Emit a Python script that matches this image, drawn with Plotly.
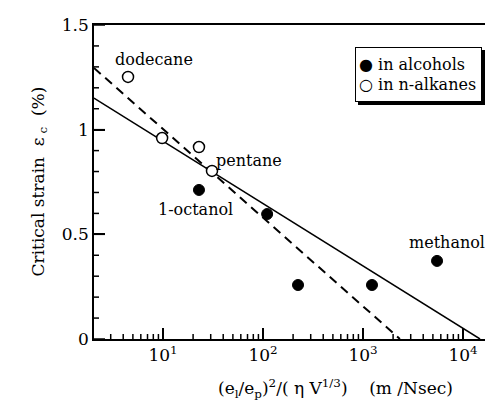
import numpy as np
import plotly.graph_objects as go

# ---- data ----
alc_x = [22.9, 110, 224, 1230, 5500]
alc_y = [0.712, 0.597, 0.258, 0.258, 0.373]
alk_x = [4.47, 9.8, 22.9, 30.9]
alk_y = [1.252, 0.96, 0.917, 0.803]

fit_solid_x = [2.04, 14800]
fit_solid_y = [1.151, 0.0]
fit_dash_x = [2.04, 2340]
fit_dash_y = [1.295, 0.0]

labels = ["dodecane", "pentane", "1-octanol", "methanol"]
label_x = [8.1, 72, 20.9, 6900]
label_y = [1.333, 0.852, 0.617, 0.463]

legend_names = ["in alcohols", "in n-alkanes"]

x_tickvals = [10, 100, 1000, 10000]
x_ticktext = ["10<sup>1</sup>", "10<sup>2</sup>", "10<sup>3</sup>", "10<sup>4</sup>"]
x_minor = [3, 4, 5, 6, 7, 8, 9, 20, 30, 40, 50, 60, 70, 80, 90,
           200, 300, 400, 500, 600, 700, 800, 900,
           2000, 3000, 4000, 5000, 6000, 7000, 8000, 9000]
y_tickvals = [0, 0.5, 1, 1.5]
y_ticktext = ["0", "0.5", "1", "1.5"]
y_minor = [0.1, 0.2, 0.3, 0.4, 0.6, 0.7, 0.8, 0.9, 1.1, 1.2, 1.3, 1.4]

FONT = "DejaVu Serif"
FS = 16

W, H = 485, 415
L, T, B, R = 94, 25, 76, 0
pw, ph = W - L - R, H - T - B
X_RANGE = [0.31, 4.22]
Y_RANGE = [0, 1.5]
MAJOR_LEN, MINOR_LEN = 11, 5


def px_x(px):
    return (px - L) / pw


def px_y(py):
    return (H - B - py) / ph


fig = go.Figure()
fig.add_trace(go.Scatter(x=fit_solid_x, y=fit_solid_y, mode="lines",
                         line=dict(color="black", width=1.5), showlegend=False))
fig.add_trace(go.Scatter(x=fit_dash_x, y=fit_dash_y, mode="lines",
                         line=dict(color="black", width=2, dash="9px,6px"), showlegend=False))
fig.add_trace(go.Scatter(x=alc_x, y=alc_y, mode="markers", name=legend_names[0],
                         showlegend=False,
                         marker=dict(symbol="circle", size=11, color="black",
                                     line=dict(color="black", width=1))))
fig.add_trace(go.Scatter(x=alk_x, y=alk_y, mode="markers", name=legend_names[1],
                         showlegend=False,
                         marker=dict(symbol="circle", size=11, color="white",
                                     line=dict(color="black", width=1.5))))

for t, lx, ly in zip(labels, label_x, label_y):
    fig.add_annotation(x=np.log10(lx), y=ly, xref="x", yref="y", text=t,
                       showarrow=False, font=dict(family=FONT, size=FS, color="black"))

fig.add_annotation(x=px_x(335), y=px_y(403), xref="paper", yref="paper",
                   text="(e<sub>l</sub>/e<sub>p</sub>)<sup>2</sup>/( η V<sup>1/3</sup>)\u00a0\u00a0\u00a0\u00a0(m /Nsec)",
                   showarrow=False, font=dict(family=FONT, size=17, color="black"))
fig.add_annotation(x=px_x(25), y=px_y(182), xref="paper", yref="paper", textangle=-90,
                   text="Critical strain\u00a0\u00a0ε<sub>\u00a0c</sub>\u00a0\u00a0(%)",
                   showarrow=False, font=dict(family=FONT, size=17, color="black"))

# inward tick marks placed through the axes' own scales
tick_line = dict(color="black", width=1.5)
for v in x_tickvals:
    fig.add_shape(type="line", xref="x", yref="y domain", x0=v, x1=v,
                  y0=0, y1=MAJOR_LEN / ph, line=tick_line, layer="above")
for v in x_minor:
    fig.add_shape(type="line", xref="x", yref="y domain", x0=v, x1=v,
                  y0=0, y1=MINOR_LEN / ph, line=tick_line, layer="above")
for v in y_tickvals:
    fig.add_shape(type="line", xref="x domain", yref="y", x0=0, x1=MAJOR_LEN / pw,
                  y0=v, y1=v, line=tick_line, layer="above")
for v in y_minor:
    fig.add_shape(type="line", xref="x domain", yref="y", x0=0, x1=MINOR_LEN / pw,
                  y0=v, y1=v, line=tick_line, layer="above")

# legend box (shadow + bordered text)
fig.add_shape(type="rect", xref="paper", yref="paper",
              x0=px_x(358), x1=px_x(485), y0=px_y(105), y1=px_y(50),
              fillcolor="black", line=dict(width=0), layer="above")
fig.add_annotation(x=px_x(355), y=px_y(47), xref="paper", yref="paper",
                   xanchor="left", yanchor="top", align="left",
                   width=119, height=47, borderpad=3, borderwidth=1,
                   bordercolor="black", bgcolor="white", showarrow=False,
                   text="●\u00a0" + legend_names[0] + "<br>○\u00a0" + legend_names[1],
                   font=dict(family=FONT, size=FS, color="black"))

major = dict(ticks="inside", ticklen=MAJOR_LEN, tickwidth=1.5, tickcolor="black",
             showgrid=False, zeroline=False, showline=True,
             linecolor="black", linewidth=1.5,
             tickfont=dict(family=FONT, size=17, color="black"))

fig.update_layout(
    width=W, height=H,
    margin=dict(l=L, r=R, t=T, b=B, pad=0, autoexpand=False),
    paper_bgcolor="white", plot_bgcolor="white",
    font=dict(family=FONT, size=FS, color="black"),
    showlegend=False,
    xaxis=dict(type="log", range=X_RANGE, mirror=True,
               tickmode="array", tickvals=x_tickvals, ticktext=x_ticktext, **major),
    yaxis=dict(range=Y_RANGE,
               tickmode="array", tickvals=y_tickvals, ticktext=y_ticktext, **major),
)

fig.write_html("out.html")
